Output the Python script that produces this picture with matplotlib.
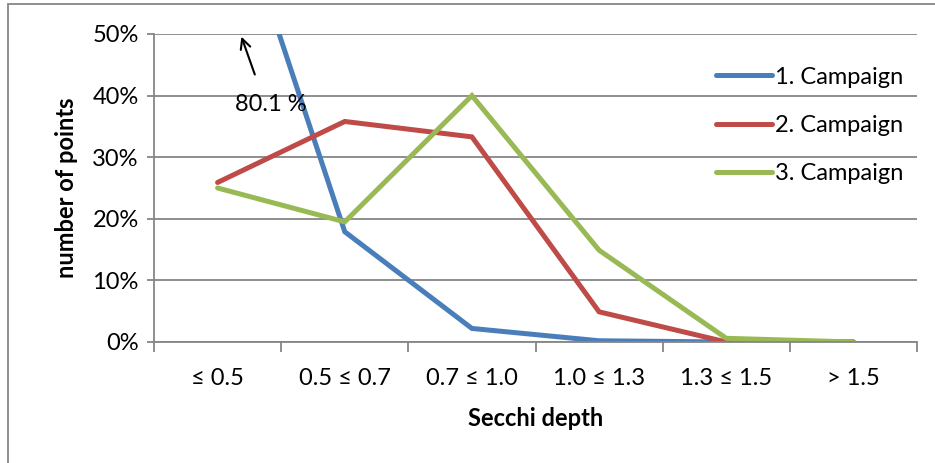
import numpy as np
import matplotlib
matplotlib.use('Agg')
import matplotlib.pyplot as plt
from matplotlib.ticker import FuncFormatter

plt.rcParams['font.family'] = ['Lato', 'DejaVu Sans']

# data
categories = ['≤ 0.5', '0.5 ≤ 0.7', '0.7 ≤ 1.0', '1.0 ≤ 1.3', '1.3 ≤ 1.5', '> 1.5']
campaign1 = [80.1, 17.9, 2.2, 0.2, 0.0, 0.0]
campaign2 = [25.9, 35.8, 33.3, 4.9, 0.0, 0.0]
campaign3 = [25.0, 19.5, 40.0, 14.9, 0.6, 0.0]
labels = ['1. Campaign', '2. Campaign', '3. Campaign']
colors = ['#4a7ebb', '#be4b48', '#98b954']

fs = 17
fig = plt.figure(figsize=(9.35, 4.63), dpi=100)
ax = fig.add_axes([154/935, 1-342/463, (917-154)/935, (342-34)/463])

x = np.arange(len(categories))
for y, lab, c in zip([campaign1, campaign2, campaign3], labels, colors):
    ax.plot(x, y, color=c, lw=3.6, label=lab, solid_capstyle='round',
            solid_joinstyle='miter', clip_on=True)

ax.set_xlim(-0.5, len(categories) - 0.5)
ax.set_ylim(0, 50)
ax.set_yticks(np.arange(0, 51, 10))
ax.yaxis.set_major_formatter(FuncFormatter(lambda v, p: '%d%%' % v))
ax.grid(axis='y', color='#868686', lw=1.3)
ax.set_axisbelow(True)

ax.set_xticks(x)
ax.set_xticklabels(categories)
ax.set_xticks(np.arange(-0.5, len(categories)), minor=True)
ax.tick_params(axis='x', which='major', length=0, pad=19, labelsize=fs)
ax.tick_params(axis='x', which='minor', length=7, width=1.3, color='#868686')
ax.tick_params(axis='y', length=5, width=1.3, color='#868686', labelsize=fs, pad=6)

for s in ['top', 'right']:
    ax.spines[s].set_visible(False)
for s in ['left', 'bottom']:
    ax.spines[s].set_color('#868686')
    ax.spines[s].set_linewidth(1.3)

ax.set_xlabel('Secchi depth', fontsize=fs, fontweight='bold', labelpad=13)
ax.set_ylabel('number of points', fontsize=fs, fontweight='bold', labelpad=10)

# first campaign runs off the top of the axis
ax.annotate('', xy=(0.18, 50), xytext=(0.3, 43),
            arrowprops=dict(arrowstyle='->', color='black', lw=1.5, mutation_scale=18),
            annotation_clip=False)
ax.text(0.14, 38.6, '80.1 %', fontsize=fs, ha='left', va='center')

ax.legend(loc='upper left', bbox_to_anchor=(0.7245, 0.925), frameon=False,
          fontsize=fs, handlelength=2.37, handletextpad=0.13, labelspacing=1.16,
          borderaxespad=0)

# chart area border
fig.patches.append(plt.Rectangle((8/935, -0.1), 1.2, 1 - 4/463 + 0.1,
                                 transform=fig.transFigure, fill=False,
                                 edgecolor='#868686', lw=1.3))

fig.savefig('out.png', dpi=100)
